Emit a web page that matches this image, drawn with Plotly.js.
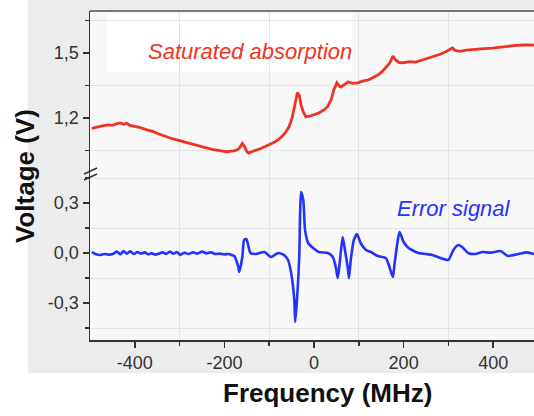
<!DOCTYPE html>
<html>
<head>
<meta charset="utf-8">
<script src="https://cdn.plot.ly/plotly-3.0.1.min.js"></script>
<style>html,body{margin:0;padding:0;background:#fff;}#chart{width:534px;height:416px;}</style>
</head>
<body>
<div id="chart"></div>
<script>
// Saturated absorption (upper segment of broken axis)
const satFreq = [-496,-485,-473,-460,-450,-440,-433,-425,-418,-411,-400,-390,-373,-360,-345,-329,-315,-300,-284,-270,-255,-240,-225,-207,-195,-180,-172,-167,-160,-155,-150,-146,-138,-129,-120,-111,-100,-91,-82,-73,-64,-56,-49,-42,-37,-33,-29,-24,-18,-10,0,10,22,30,38,44,51,56,60,68,76,86,98,108,120,131,142,152,160,169,176,182,190,200,213,227,245,264,280,293,303,309,315,325,340,360,380,398,415,433,450,471,491];
const satVolt = [1.152,1.158,1.163,1.168,1.166,1.174,1.177,1.171,1.175,1.166,1.162,1.157,1.145,1.138,1.125,1.112,1.103,1.095,1.085,1.078,1.070,1.062,1.054,1.048,1.044,1.048,1.052,1.060,1.082,1.068,1.045,1.038,1.046,1.052,1.058,1.066,1.074,1.085,1.097,1.112,1.132,1.158,1.200,1.269,1.318,1.305,1.262,1.228,1.205,1.208,1.214,1.222,1.237,1.252,1.283,1.329,1.362,1.348,1.343,1.356,1.366,1.360,1.362,1.370,1.375,1.386,1.398,1.414,1.431,1.454,1.486,1.468,1.456,1.455,1.460,1.458,1.470,1.482,1.493,1.505,1.518,1.523,1.512,1.508,1.513,1.518,1.520,1.523,1.528,1.532,1.535,1.537,1.536];

// Error signal (lower segment)
const errFreq = [-496,-488,-478,-468,-458,-448,-440,-432,-425,-418,-410,-402,-394,-386,-378,-370,-362,-354,-346,-338,-330,-322,-314,-306,-298,-290,-280,-270,-260,-250,-240,-230,-220,-210,-200,-190,-184,-178,-169,-167,-160,-156,-151,-147,-142,-129,-111,-96,-80,-67,-58,-51,-44,-42,-38,-33,-31,-29,-24,-20,-13,-2,11,31,42,49,53,58,64,69,76,78,82,89,96,104,116,127,142,160,167,176,180,187,191,200,211,233,250,264,289,300,311,322,333,344,360,376,395,416,433,456,475,491];
const errVolt = [0.006,-0.006,-0.012,-0.006,-0.010,-0.004,0.008,-0.008,0.012,-0.004,0.010,-0.006,0.006,-0.004,0.004,-0.008,-0.002,-0.010,-0.004,0.004,-0.006,0.008,-0.004,0.006,-0.012,0.002,-0.006,0.004,-0.004,0.008,-0.002,0.004,-0.006,-0.004,-0.008,-0.006,-0.012,-0.018,-0.084,-0.114,-0.024,0.078,0.084,0.048,0.000,-0.006,0.006,-0.024,0.000,-0.012,-0.042,-0.120,-0.282,-0.414,-0.282,-0.024,0.240,0.366,0.318,0.138,0.060,0.030,0.006,0.000,-0.024,-0.090,-0.150,-0.042,0.096,0.018,-0.102,-0.150,-0.042,0.078,0.114,0.060,0.018,0.006,-0.018,-0.030,-0.072,-0.144,-0.060,0.078,0.126,0.066,0.030,0.000,-0.006,-0.012,-0.036,-0.042,0.018,0.048,0.030,0.000,-0.006,0.006,0.002,0.012,-0.018,-0.006,0.004,-0.006];

const xTicks = [-400,-200,0,200,400];
const xTickText = ['-400','-200','0','200','400'];
const yLowTicks = [-0.3,0,0.3];
const yLowText = ['-0,3','0,0','0,3'];
const yHighTicks = [1.2,1.5];
const yHighText = ['1,2','1,5'];

const W = 534, H = 416, L = 90, R = 0, T = 11, B = 76;
const pw = W - L - R, ph = H - T - B;
const px = v => (v - L) / pw;
const py = v => (H - B - v) / ph;
const brk = py(176);

const tickFont = {family: 'Liberation Sans, Arial, sans-serif', size: 18, color: '#333'};
const axisCommon = {
  showline: true, linecolor: '#333', linewidth: 1.5,
  ticks: 'outside', ticklen: 6, tickwidth: 1.5, tickcolor: '#333',
  showgrid: false, zeroline: false, tickfont: tickFont, tickmode: 'array'
};

const traces = [
  {x: errFreq, y: errVolt, xaxis: 'x', yaxis: 'y', type: 'scatter', mode: 'lines',
   line: {color: '#2233ff', width: 2.6, shape: 'spline', smoothing: 0.6}, hoverinfo: 'skip'},
  {x: satFreq, y: satVolt, xaxis: 'x', yaxis: 'y2', type: 'scatter', mode: 'lines',
   line: {color: '#ee3322', width: 2.8}, hoverinfo: 'skip'}
];

const minorCommon = {ticklen: 4, tickwidth: 1.5, tickcolor: '#333', showgrid: true, gridcolor: '#e4e4e4', gridwidth: 1, tickmode: 'array'};

const layout = {
  width: W, height: H,
  margin: {l: L, r: R, t: T, b: B},
  paper_bgcolor: '#ffffff', plot_bgcolor: 'rgba(0,0,0,0)',
  showlegend: false,
  xaxis: Object.assign({}, axisCommon, {range: [-500, 491], anchor: 'y', tickvals: xTicks, ticktext: xTickText,
    minor: Object.assign({}, minorCommon, {tickvals: [-300,-100,100,300]})}),
  yaxis: Object.assign({}, axisCommon, {domain: [0, brk], range: [-0.522, 0.462], anchor: 'x', tickvals: yLowTicks, ticktext: yLowText,
    minor: Object.assign({}, minorCommon, {tickvals: [-0.45,-0.15,0.15,0.45]})}),
  yaxis2: Object.assign({}, axisCommon, {domain: [brk, 1], range: [0.932, 1.694], anchor: 'x', tickvals: yHighTicks, ticktext: yHighText,
    minor: Object.assign({}, minorCommon, {tickvals: [1.05,1.35,1.65]})}),
  shapes: [
    {type: 'rect', xref: 'paper', yref: 'paper', x0: px(28), x1: 1.02, y0: py(373), y1: py(0), fillcolor: '#ececec', line: {width: 0}, layer: 'below'},
    {type: 'rect', xref: 'paper', yref: 'paper', x0: 0, x1: 1.02, y0: 0, y1: 1, fillcolor: '#f8f8f8', line: {width: 0}, layer: 'below'},
    {type: 'rect', xref: 'paper', yref: 'paper', x0: px(107), x1: px(352), y0: py(72), y1: py(14), fillcolor: '#ffffff', line: {width: 0}, layer: 'below'},
    {type: 'line', xref: 'paper', yref: 'paper', x0: 0, x1: 1.02, y0: 1, y1: 1, line: {color: '#777', width: 2}},
    {type: 'line', xref: 'paper', yref: 'paper', x0: px(84), x1: px(97), y0: py(174), y1: py(168), line: {color: '#333', width: 1.5}},
    {type: 'line', xref: 'paper', yref: 'paper', x0: px(84), x1: px(97), y0: py(180), y1: py(174), line: {color: '#333', width: 1.5}}
  ],
  annotations: [
    {text: 'Saturated absorption', xref: 'paper', yref: 'paper', x: px(250), y: py(51), xanchor: 'center', yanchor: 'middle', showarrow: false,
     font: {family: 'Liberation Sans, Arial, sans-serif', size: 22, color: '#ee3322', style: 'italic'}},
    {text: 'Error signal', xref: 'paper', yref: 'paper', x: px(454), y: py(208), xanchor: 'center', yanchor: 'middle', showarrow: false,
     font: {family: 'Liberation Sans, Arial, sans-serif', size: 22, color: '#2233ff', style: 'italic'}},
    {text: '<b>Voltage (V)</b>', xref: 'paper', yref: 'paper', x: px(25), y: py(176), xanchor: 'center', yanchor: 'middle', textangle: -90, showarrow: false,
     font: {family: 'Liberation Sans, Arial, sans-serif', size: 26, color: '#111'}},
    {text: '<b>Frequency (MHz)</b>', xref: 'paper', yref: 'paper', x: px(327), y: py(393), xanchor: 'center', yanchor: 'middle', showarrow: false,
     font: {family: 'Liberation Sans, Arial, sans-serif', size: 26, color: '#111'}}
  ]
};

Plotly.newPlot('chart', traces, layout, {staticPlot: true, displayModeBar: false});
</script>
</body>
</html>
